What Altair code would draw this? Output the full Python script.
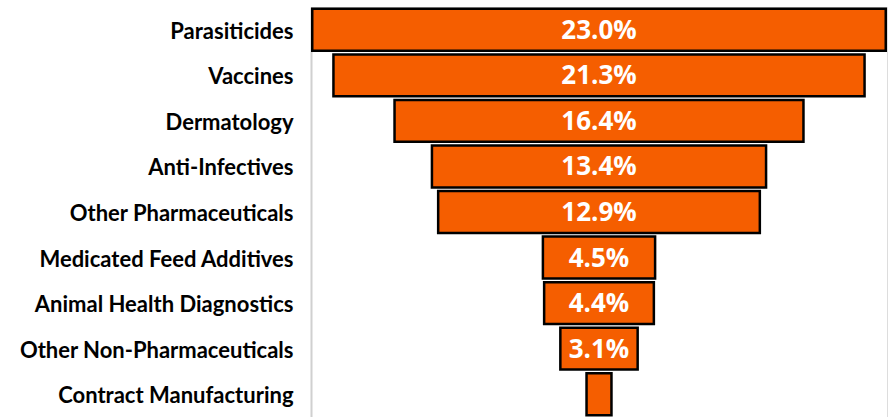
import altair as alt
import pandas as pd

# Market share by product segment
segments = [
    "Parasiticides",
    "Vaccines",
    "Dermatology",
    "Anti-Infectives",
    "Other Pharmaceuticals",
    "Medicated Feed Additives",
    "Animal Health Diagnostics",
    "Other Non-Pharmaceuticals",
    "Contract Manufacturing",
]
shares = [23.0, 21.3, 16.4, 13.4, 12.9, 4.5, 4.4, 3.1, 1.0]
show_label = [True, True, True, True, True, True, True, True, False]

df = pd.DataFrame({"segment": segments, "share": shares, "show": show_label})
df["x0"] = -df["share"] / 2
df["x1"] = df["share"] / 2
df["label"] = df["share"].map(lambda v: f"{v:.1f}%")

y_enc = alt.Y(
    "segment:N",
    sort=segments,
    title=None,
    scale=alt.Scale(paddingInner=0.08, paddingOuter=0.04),
    axis=alt.Axis(
        ticks=False,
        labelFont="Lato",
        labelFontWeight="bold",
        labelFontSize=22,
        labelColor="#000000",
        labelPadding=18,
        labelOffset=2,
        domainColor="#d0d0d0",
        domainWidth=2,
        labelLimit=400,
    ),
)
x_scale = alt.Scale(domain=[-11.55, 11.55], nice=False, zero=False)

bars = alt.Chart(df).mark_bar(
    color="#F55E00", stroke="#000000", strokeWidth=2.5, cornerRadius=0
).encode(
    y=y_enc,
    x=alt.X("x0:Q", scale=x_scale, axis=None),
    x2="x1:Q",
)

labels = alt.Chart(df).transform_filter(
    alt.datum.show
).mark_text(
    color="white", font="Open Sans", fontWeight="bold", fontSize=26, align="center", baseline="middle", dy=1
).encode(
    y=alt.Y("segment:N", sort=segments),
    x=alt.value(288),
    text="label:N",
)

chart = alt.layer(bars, labels).properties(
    width=576,
    height=410,
    padding={"left": 311, "top": 7, "right": 3, "bottom": 0},
    autosize=alt.AutoSizeParams(type="none"),
).configure_view(stroke=None).configure(background="white")

chart.save("out.html", embed_options={"renderer": "svg", "actions": False})
